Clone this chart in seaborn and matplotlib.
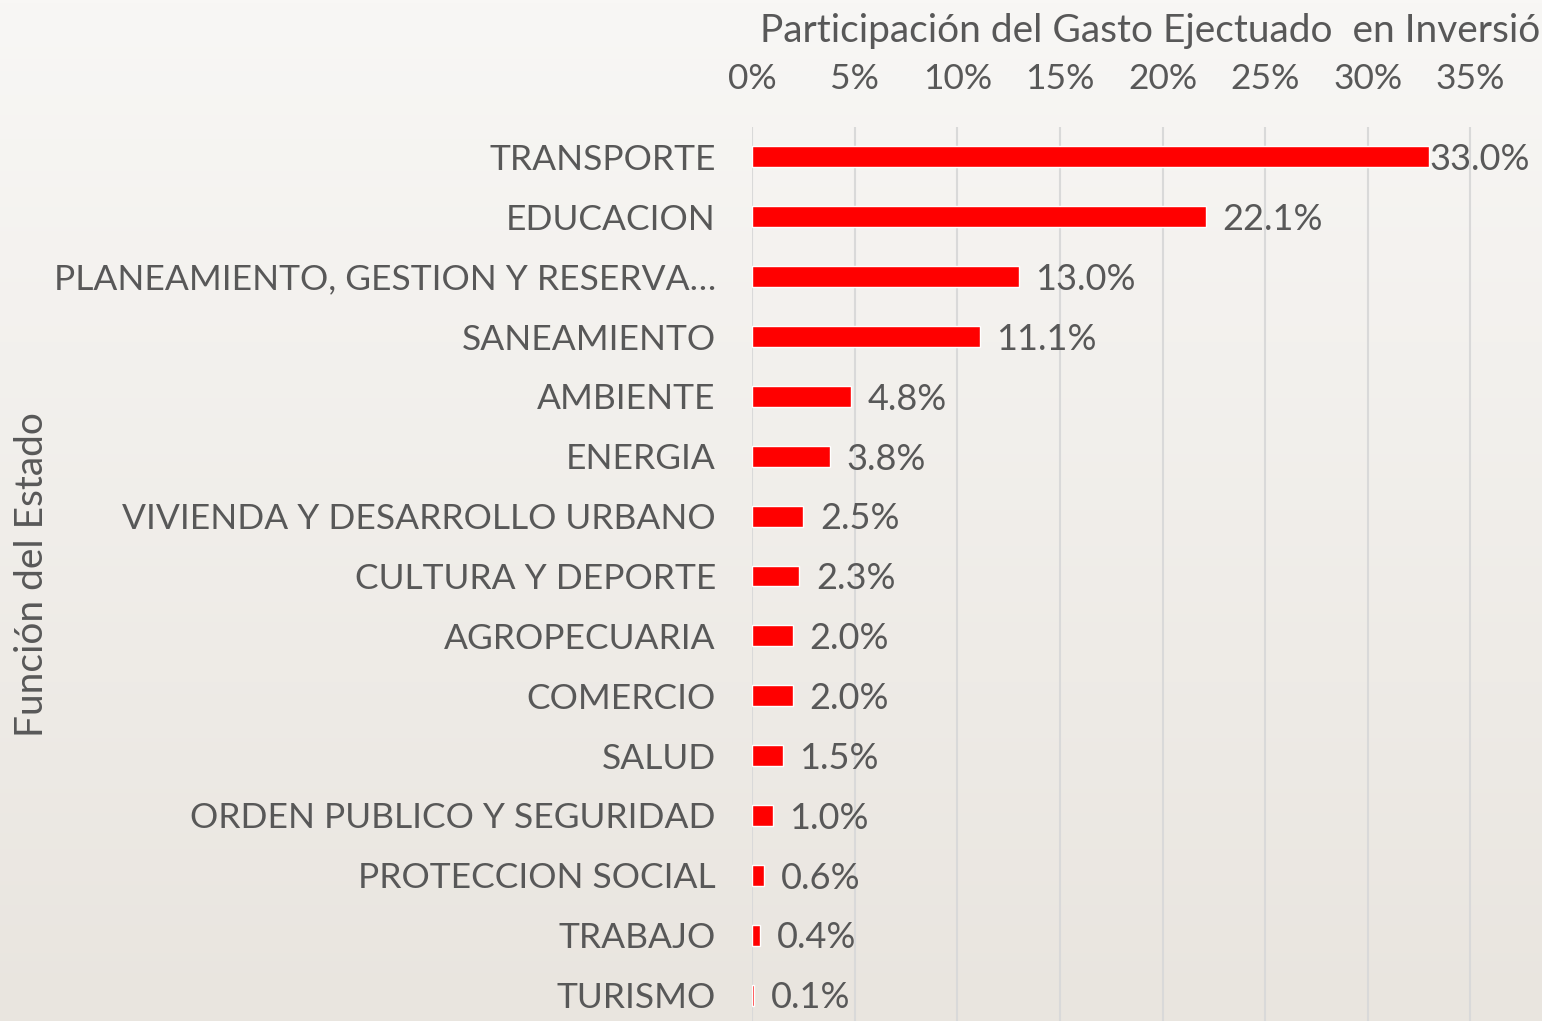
import numpy as np
import pandas as pd
import matplotlib
matplotlib.use("Agg")
import matplotlib.pyplot as plt
import seaborn as sns
from matplotlib.colors import LinearSegmentedColormap

categories = ["TRANSPORTE", "EDUCACION", "PLANEAMIENTO, GESTION Y RESERVA…",
              "SANEAMIENTO", "AMBIENTE", "ENERGIA", "VIVIENDA Y DESARROLLO URBANO",
              "CULTURA Y DEPORTE", "AGROPECUARIA", "COMERCIO", "SALUD",
              "ORDEN PUBLICO Y SEGURIDAD", "PROTECCION SOCIAL", "TRABAJO", "TURISMO"]
values = [0.330, 0.221, 0.130, 0.111, 0.048, 0.038, 0.025, 0.023, 0.020,
          0.020, 0.015, 0.010, 0.006, 0.004, 0.001]
tick_vals = [0, 0.05, 0.10, 0.15, 0.20, 0.25, 0.30, 0.35]
tick_labels = ["0%", "5%", "10%", "15%", "20%", "25%", "30%", "35%"]
title = "Participación del Gasto Ejectuado  en Inversión"
ylabel = "Función del Estado"

sns.set_theme(style="white")
plt.rcParams['font.family'] = ['Lato', 'DejaVu Sans']
TXT = "#585858"

W, H = 1542, 1021
fig = plt.figure(figsize=(W / 100, H / 100), dpi=100)

# background gradient
bg = fig.add_axes([0, 0, 1, 1], zorder=-10)
cmap = LinearSegmentedColormap.from_list("bg", ["#f8f7f5", "#e9e5df"])
grad = np.linspace(0, 1, 256).reshape(-1, 1)
bg.imshow(grad, aspect="auto", cmap=cmap, extent=[0, 1, 0, 1], origin="upper")
bg.axis("off")

left = 752 / W
right = 1573 / W
top = 1 - 127 / H
bottom = 1 - 1025 / H
ax = fig.add_axes([left, bottom, right - left, top - bottom])
ax.patch.set_alpha(0)

df = pd.DataFrame({"cat": categories, "val": values})
sns.barplot(data=df, x="val", y="cat", orient="h", color="#ff0000",
            width=0.35, saturation=1, ax=ax, zorder=3)

ax.set_xlim(0, 0.40)
ax.set_ylim(len(categories) - 0.5, -0.5)
ax.xaxis.tick_top()
ax.set_xticks([0, 0.05, 0.10, 0.15, 0.20, 0.25, 0.30, 0.35, 0.40])
ax.set_xticklabels(tick_labels + [""])
ax.tick_params(axis="x", length=0, pad=23, labelsize=25.5, labelcolor=TXT)
ax.tick_params(axis="y", length=0, pad=26, labelsize=25.5, labelcolor=TXT)
ax.grid(axis="x", color="#d9d9d9", linewidth=1.5, zorder=0)
ax.grid(axis="y", visible=False)
for s in ax.spines.values():
    s.set_visible(False)
ax.set_xlabel("")
ax.set_ylabel("")

for i, v in enumerate(values):
    pad = 0 if v > 0.30 else 12
    ax.annotate(f"{v*100:.1f}%", xy=(v, i), xytext=(pad, -2),
                textcoords="offset points", ha="left", va="center",
                fontsize=26, color=TXT, zorder=5)

fig.text(760 / W, 1 - 31 / H, title, ha="left", va="center",
         fontsize=28, color=TXT)
fig.text(32 / W, 1 - 575 / H, ylabel, ha="center", va="center",
         rotation=90, fontsize=28, color=TXT)

fig.savefig("out.png", dpi=100)
